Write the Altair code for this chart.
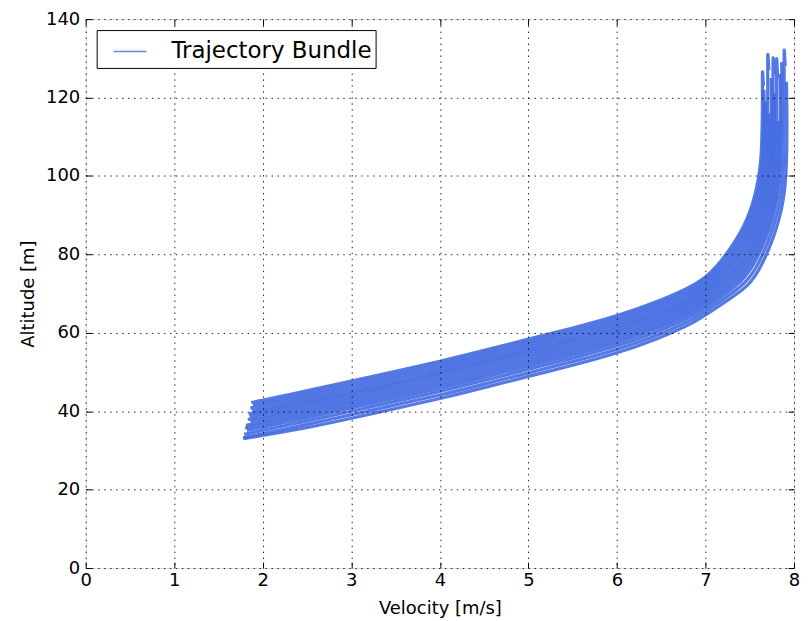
import altair as alt
import pandas as pd

# Velocity stations [m/s] shared by the straight part of every trajectory
LOW_V = [2.5, 3.0, 3.5, 4.0, 4.5, 5.0, 5.5, 6.0, 6.5, 6.8, 7.0]

# Each trajectory: velocity [m/s] and altitude [m]
T01_V = [1.87] + LOW_V + [7.14, 7.24, 7.32, 7.40, 7.47, 7.53, 7.58, 7.61, 7.63, 7.64, 7.645, 7.64, 7.655]
T01_H = [42.2, 45.2, 47.7, 50.2, 52.7, 55.5, 58.4, 61.2, 64.2, 68.3, 71.3, 74.0,
         77.3, 80.2, 82.8, 85.8, 89.0, 92.7, 97.0, 101.0, 105.0, 112, 120, 129, 123]

T02_V = [1.89] + LOW_V + [7.16, 7.26, 7.34, 7.42, 7.49, 7.55, 7.60, 7.63, 7.65, 7.66, 7.665, 7.66]
T02_H = [41.6, 44.5, 47.0, 49.5, 52.0, 54.8, 57.7, 60.5, 63.5, 67.6, 70.6, 73.3,
         76.8, 79.7, 82.3, 85.4, 88.6, 92.3, 96.6, 100.6, 104.7, 112, 118, 122]

T03_V = [1.86] + LOW_V + [7.18, 7.28, 7.36, 7.44, 7.51, 7.57, 7.62, 7.65, 7.67, 7.68, 7.68]
T03_H = [40.8, 43.8, 46.3, 48.8, 51.3, 54.1, 57.0, 59.8, 62.8, 66.9, 69.9, 72.6,
         76.4, 79.2, 81.8, 84.9, 88.2, 91.9, 96.2, 100.2, 104.3, 112, 119]

T04_V = [1.88] + LOW_V + [7.20, 7.30, 7.38, 7.46, 7.53, 7.59, 7.64, 7.67, 7.69, 7.70, 7.705, 7.70, 7.715]
T04_H = [40.1, 43.1, 45.6, 48.1, 50.6, 53.4, 56.3, 59.1, 62.1, 66.2, 69.2, 71.9,
         75.9, 78.7, 81.3, 84.5, 87.8, 91.5, 95.8, 99.8, 104.0, 112, 122, 134, 127]

T05_V = [1.84] + LOW_V + [7.22, 7.32, 7.40, 7.48, 7.55, 7.61, 7.66, 7.69, 7.71, 7.72, 7.72]
T05_H = [39.3, 42.4, 44.9, 47.4, 49.9, 52.7, 55.6, 58.4, 61.4, 65.5, 68.5, 71.2,
         75.5, 78.2, 80.8, 84.0, 87.4, 91.2, 95.5, 99.5, 103.6, 110, 116]

T06_V = [1.85] + LOW_V + [7.24, 7.34, 7.42, 7.50, 7.57, 7.63, 7.68, 7.71, 7.73, 7.74, 7.745, 7.74]
T06_H = [38.7, 41.8, 44.3, 46.8, 49.3, 52.1, 55.0, 57.8, 60.8, 64.9, 67.9, 70.6,
         75.0, 77.8, 80.4, 83.6, 87.0, 90.8, 95.1, 99.1, 103.3, 112, 120, 125]

T07_V = [1.83] + LOW_V + [7.26, 7.36, 7.44, 7.52, 7.59, 7.65, 7.70, 7.73, 7.75, 7.76, 7.765, 7.76, 7.775]
T07_H = [37.9, 41.1, 43.6, 46.1, 48.6, 51.4, 54.3, 57.1, 60.1, 64.2, 67.2, 69.9,
         74.5, 77.2, 79.8, 83.1, 86.6, 90.3, 94.6, 98.6, 102.9, 112, 122, 133, 126]

T08_V = [1.86] + LOW_V + [7.28, 7.38, 7.46, 7.54, 7.61, 7.67, 7.72, 7.75, 7.77, 7.78, 7.78]
T08_H = [37.4, 40.4, 42.9, 45.4, 47.9, 50.7, 53.6, 56.4, 59.4, 63.5, 66.5, 69.2,
         74.1, 76.7, 79.3, 82.6, 86.2, 90.0, 94.3, 98.3, 102.5, 112, 121]

T09_V = [1.81] + LOW_V + [7.30, 7.40, 7.48, 7.56, 7.63, 7.69, 7.74, 7.77, 7.79, 7.80, 7.805, 7.80, 7.815]
T09_H = [36.4, 39.7, 42.2, 44.7, 47.2, 50.0, 52.9, 55.7, 58.7, 62.8, 65.8, 68.5,
         73.6, 76.2, 78.8, 82.2, 85.8, 89.6, 93.9, 97.9, 102.2, 112, 122, 133, 125]

T10_V = [1.80] + LOW_V + [7.32, 7.42, 7.50, 7.58, 7.65, 7.71, 7.76, 7.79, 7.81, 7.82, 7.82]
T10_H = [35.7, 39.0, 41.5, 44.0, 46.5, 49.3, 52.2, 55.0, 58.0, 62.1, 65.1, 67.8,
         73.1, 75.7, 78.3, 81.8, 85.4, 89.2, 93.5, 97.5, 101.8, 108, 114]

T11_V = [1.82] + LOW_V + [7.34, 7.44, 7.52, 7.60, 7.67, 7.73, 7.78, 7.81, 7.83, 7.84, 7.845, 7.84]
T11_H = [35.1, 38.3, 40.8, 43.3, 45.8, 48.6, 51.5, 54.3, 57.3, 61.4, 64.4, 67.1,
         72.6, 75.2, 77.8, 81.3, 84.9, 88.7, 93.0, 97.0, 101.4, 112, 120, 126]

T12_V = [1.79] + LOW_V + [7.36, 7.46, 7.54, 7.62, 7.69, 7.75, 7.80, 7.83, 7.85, 7.86, 7.865, 7.86]
T12_H = [34.1, 37.5, 40.0, 42.5, 45.0, 47.8, 50.7, 53.5, 56.5, 60.6, 63.6, 66.3,
         72.1, 74.6, 77.2, 80.8, 84.4, 88.3, 92.6, 96.6, 101.0, 112, 122, 129]

T13_V = [1.78] + LOW_V + [7.39, 7.49, 7.57, 7.65, 7.72, 7.78, 7.83, 7.86, 7.88, 7.89, 7.89, 7.885, 7.90]
T13_H = [33.2, 36.6, 39.1, 41.6, 44.1, 46.9, 49.8, 52.6, 55.6, 59.7, 62.7, 65.4,
         71.5, 73.9, 76.5, 80.1, 83.9, 87.8, 92.0, 96.0, 100.5, 112, 124, 135, 128]

T14_V = [1.78] + LOW_V + [7.42, 7.52, 7.60, 7.68, 7.75, 7.81, 7.86, 7.89, 7.91, 7.92, 7.92, 7.915]
T14_H = [33.0, 35.7, 38.2, 40.7, 43.2, 46.0, 48.9, 51.7, 54.7, 58.8, 61.8, 64.5,
         70.8, 73.2, 75.8, 79.5, 83.3, 87.2, 91.5, 95.5, 100.0, 108, 116, 124]

X_TICKS = [0, 1, 2, 3, 4, 5, 6, 7, 8]
Y_TICKS = [0, 20, 40, 60, 80, 100, 120, 140]
SERIES = "Trajectory Bundle"
BLUE = "#4169E1"

TRAJ = [
    (T01_V, T01_H), (T02_V, T02_H), (T03_V, T03_H), (T04_V, T04_H),
    (T05_V, T05_H), (T06_V, T06_H), (T07_V, T07_H), (T08_V, T08_H),
    (T09_V, T09_H), (T10_V, T10_H), (T11_V, T11_H), (T12_V, T12_H),
    (T13_V, T13_H), (T14_V, T14_H),
]

rows = []
for i, (vs, hs) in enumerate(TRAJ):
    for k, (v, h) in enumerate(zip(vs, hs)):
        rows.append({"traj": i, "k": k, "v": v, "h": h, "series": SERIES})
df = pd.DataFrame(rows)

W, H = 711, 551
FONT = "DejaVu Sans"

xscale = alt.Scale(domain=[0, 8], nice=False, zero=False)
yscale = alt.Scale(domain=[0, 140], nice=False, zero=False)

grid_kw = dict(grid=True, gridColor="black", gridDash=[1.5, 4.5], gridWidth=1, gridOpacity=0.85)

main_x = alt.Axis(orient="bottom", values=X_TICKS, format="d", ticks=False, tickSize=0,
                  labelPadding=4, labelFontSize=18, labelFont=FONT, labelColor="black",
                  labelFlush=False,
                  title="Velocity [m/s]", titleFontSize=18, titleFont=FONT, titleFontWeight="normal",
                  titleColor="black", titleBaseline="bottom", titleY=50,
                  domain=False, zindex=1, **grid_kw)
main_y = alt.Axis(orient="left", values=Y_TICKS, format="d", ticks=False, tickSize=0,
                  labelPadding=6, labelFontSize=18, labelFont=FONT, labelColor="black",
                  labelFlush=False,
                  title="Altitude [m]", titleFontSize=18, titleFont=FONT, titleFontWeight="normal",
                  titleColor="black", titlePadding=8, domain=False, zindex=1, **grid_kw)

def tick_axis(orient, offset, values):
    return alt.Axis(orient=orient, offset=offset, values=values, labels=False, grid=False,
                    domain=False, ticks=True, tickSize=6, tickColor="black", tickWidth=1,
                    title="", zindex=1)

lines = alt.Chart(df).mark_line(strokeWidth=3.2, opacity=0.9, interpolate="basis").encode(
    x=alt.X("v:Q", scale=xscale, axis=main_x),
    y=alt.Y("h:Q", scale=yscale, axis=main_y),
    detail="traj:N",
    order="k:Q",
    color=alt.Color("series:N", scale=alt.Scale(range=[BLUE]),
                    legend=alt.Legend(title=None, orient="top-left", offset=11,
                                      symbolType="stroke", symbolSize=1100, symbolStrokeWidth=1.5,
                                      symbolStrokeColor=BLUE, symbolOpacity=0.8,
                                      labelFontSize=23, labelFont=FONT, labelColor="black",
                                      labelLimit=0,
                                      strokeColor="black", fillColor="white", padding=4,
                                      symbolOffset=12, labelOffset=24, cornerRadius=0, zindex=2)),
)

ticks_a = alt.Chart(df).mark_point(opacity=0).encode(
    x=alt.X("v:Q", scale=xscale, axis=tick_axis("top", -H, X_TICKS)),
    y=alt.Y("h:Q", scale=yscale, axis=tick_axis("right", -W, Y_TICKS)),
)
ticks_b = alt.Chart(df).mark_point(opacity=0).encode(
    x=alt.X("v:Q", scale=xscale, axis=tick_axis("bottom", -H, X_TICKS)),
    y=alt.Y("h:Q", scale=yscale, axis=tick_axis("left", -W, Y_TICKS)),
)

chart = alt.layer(lines, ticks_a, ticks_b).resolve_axis(x="independent", y="independent").properties(
    width=W, height=H,
    autosize=alt.AutoSizeParams(type="none"),
    padding={"left": 78, "top": 10, "right": 8, "bottom": 50},
).configure_view(stroke="black", strokeWidth=1.2).configure(background="white")

chart.save("out.html", embed_options={"renderer": "svg", "actions": False})
